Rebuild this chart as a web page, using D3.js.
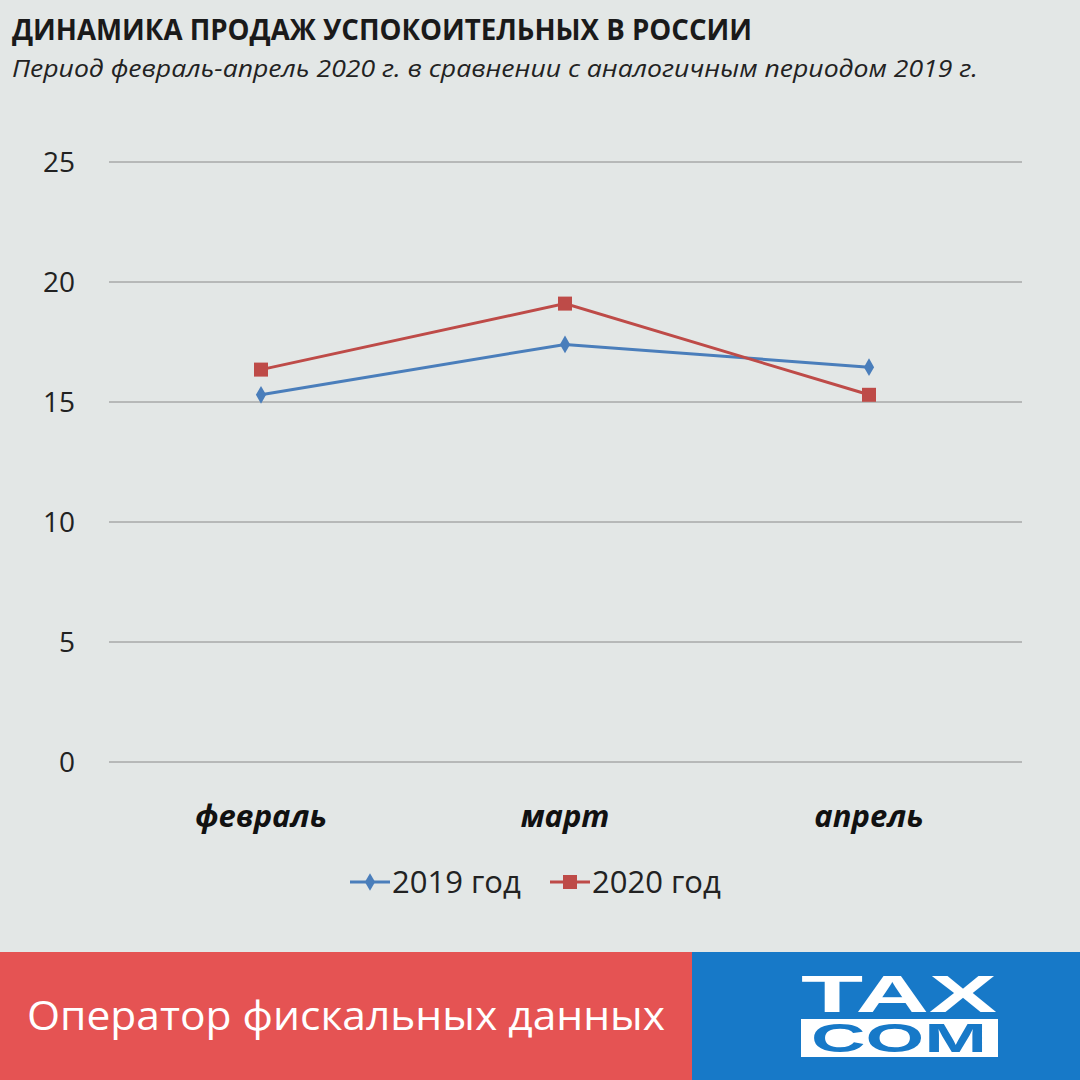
<!DOCTYPE html><html><head><meta charset="utf-8"><script src="https://cdn.jsdelivr.net/npm/d3@7"></script>
<style>body{margin:0;background:#e3e7e6}svg{display:block}</style></head><body><svg id="c" width="1080" height="1080"></svg>
<script>
const months=["февраль","март","апрель"];
const s2019=[15.3,17.4,16.45];
const s2020=[16.35,19.1,15.3];
const seriesNames=["2019 год","2020 год"];
const yTicks=[0,5,10,15,20,25];
const svg=d3.select("#c");
svg.append("rect").attr("width",1080).attr("height",1080).attr("fill","#e3e7e6");
svg.append("text").attr("x",12).attr("y",40).attr("font-family","Open Sans").attr("font-weight",700).attr("font-size",29).attr("fill","#1a1a1a").attr("textLength",740).attr("lengthAdjust","spacingAndGlyphs").text("ДИНАМИКА ПРОДАЖ УСПОКОИТЕЛЬНЫХ В РОССИИ");
svg.append("text").attr("x",12).attr("y",77).attr("font-family","Open Sans").attr("font-style","italic").attr("font-size",23).attr("fill","#222").attr("textLength",966).attr("lengthAdjust","spacingAndGlyphs").text("Период февраль-апрель 2020 г. в сравнении с аналогичным периодом 2019 г.");
const x=d3.scaleBand().domain(months).range([109,1021]);
const y=d3.scaleLinear().domain([0,25]).range([762,162]);
yTicks.forEach(t=>{
 svg.append("line").attr("x1",109).attr("x2",1022).attr("y1",y(t)).attr("y2",y(t)).attr("stroke","#8a8a8a").attr("stroke-width",1);
 svg.append("text").attr("x",75).attr("y",y(t)+10).attr("text-anchor","end").attr("font-family","Open Sans").attr("font-size",28).attr("fill","#222").text(t);
});
months.forEach(m=>svg.append("text").attr("x",x(m)+x.bandwidth()/2).attr("y",827).attr("text-anchor","middle").attr("font-family","Open Sans").attr("font-style","italic").attr("font-weight",700).attr("font-size",31).attr("fill","#111").text(m));
const cx=m=>x(m)+x.bandwidth()/2;
const line=d3.line().x((d,i)=>cx(months[i])).y(d=>y(d));
const cols=["#4a7ebb","#be4b48"];
[s2019,s2020].forEach((s,k)=>{
 svg.append("path").attr("d",line(s)).attr("fill","none").attr("stroke",cols[k]).attr("stroke-width",3);
 s.forEach((v,i)=>{
  if(k==0) svg.append("path").attr("d",d3.symbol(d3.symbolDiamond,90)()).attr("transform",`translate(${cx(months[i])},${y(v)})`).attr("fill",cols[k]);
  else svg.append("rect").attr("x",cx(months[i])-7).attr("y",y(v)-7).attr("width",14).attr("height",14).attr("fill",cols[k]);
 });
});
[350,550].forEach((lx,k)=>{
 svg.append("line").attr("x1",lx).attr("x2",lx+40).attr("y1",882).attr("y2",882).attr("stroke",cols[k]).attr("stroke-width",3);
 if(k==0) svg.append("path").attr("d",d3.symbol(d3.symbolDiamond,90)()).attr("transform",`translate(${lx+20},882)`).attr("fill",cols[k]);
 else svg.append("rect").attr("x",lx+13).attr("y",875).attr("width",14).attr("height",14).attr("fill",cols[k]);
 svg.append("text").attr("x",lx+42).attr("y",893).attr("font-family","Open Sans").attr("font-size",31).attr("fill","#222").text(seriesNames[k]);
});
svg.append("rect").attr("x",0).attr("y",952).attr("width",692).attr("height",128).attr("fill","#e55353");
svg.append("rect").attr("x",692).attr("y",952).attr("width",388).attr("height",128).attr("fill","#1779c8");
svg.append("text").attr("x",27).attr("y",1030).attr("font-family","Open Sans").attr("font-size",40).attr("fill","#fff").attr("textLength",638).attr("lengthAdjust","spacingAndGlyphs").text("Оператор фискальных данных");
svg.append("text").attr("x",899).attr("y",1012).attr("text-anchor","middle").attr("font-family","Liberation Sans").attr("font-weight",700).attr("font-size",52).attr("fill","#fff").attr("textLength",196).attr("lengthAdjust","spacingAndGlyphs").text("TAX");
svg.append("rect").attr("x",801).attr("y",1019).attr("width",197).attr("height",38).attr("fill","#fff");
svg.append("text").attr("x",899).attr("y",1052).attr("text-anchor","middle").attr("font-family","Liberation Sans").attr("font-weight",700).attr("font-size",40).attr("fill","#1779c8").attr("textLength",176).attr("lengthAdjust","spacingAndGlyphs").text("COM");
</script></body></html>
